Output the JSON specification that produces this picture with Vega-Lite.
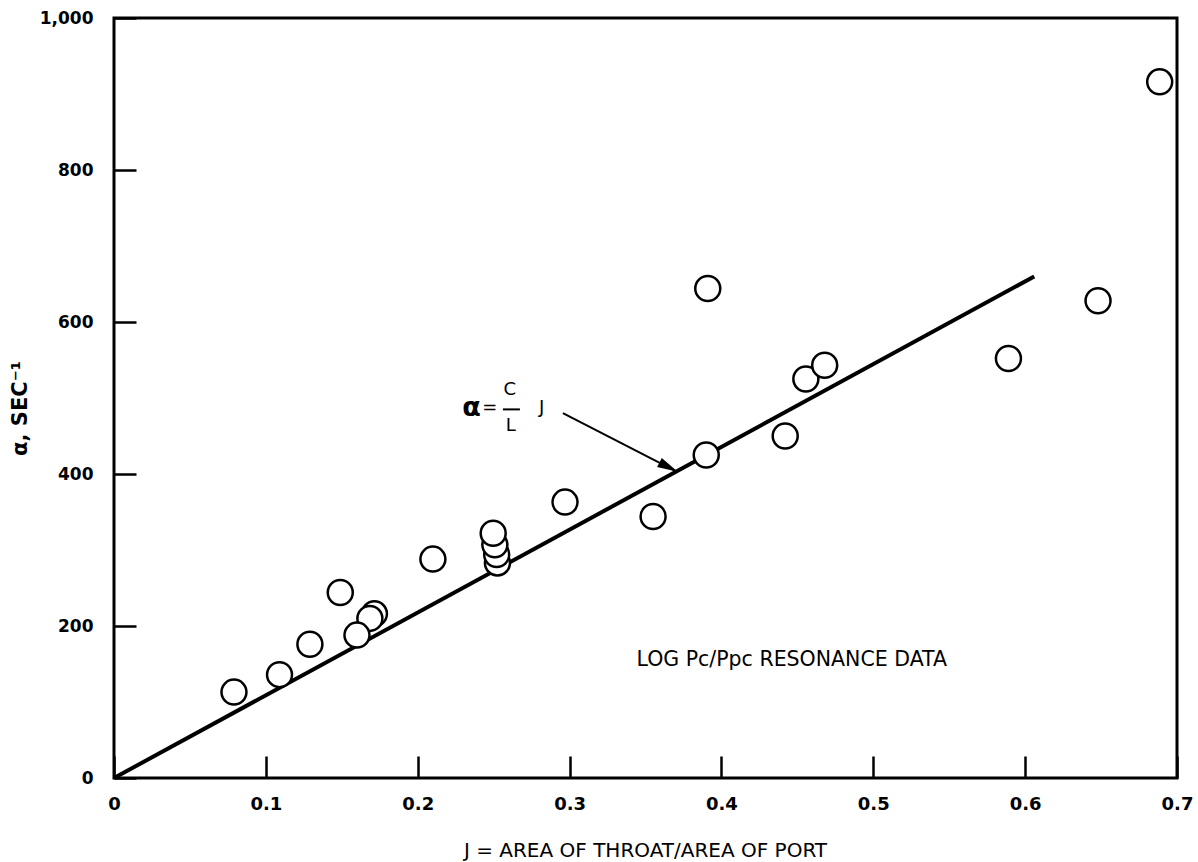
{
  "$schema": "https://vega.github.io/schema/vega-lite/v6.json",
  "width": 1063,
  "height": 760,
  "autosize": {"type": "none"},
  "padding": {"left": 114, "top": 18, "right": 21, "bottom": 84},
  "background": "white",
  "config": {
    "view": {"stroke": "black", "strokeWidth": 3},
    "axis": {
      "grid": false,
      "domain": false,
      "labelFlush": false,
      "labelFont": "DejaVu Sans",
      "labelFontWeight": "bold",
      "labelFontSize": 18,
      "labelColor": "black",
      "tickColor": "black",
      "tickWidth": 2.5,
      "titleFont": "DejaVu Sans",
      "titleColor": "black"
    }
  },
  "datasets": {
    "obs": [
      {"J": 0.079, "alpha": 113},
      {"J": 0.109, "alpha": 136},
      {"J": 0.129, "alpha": 176},
      {"J": 0.149, "alpha": 244},
      {"J": 0.1715, "alpha": 216},
      {"J": 0.1685, "alpha": 210},
      {"J": 0.160, "alpha": 188},
      {"J": 0.210, "alpha": 288},
      {"J": 0.2525, "alpha": 283},
      {"J": 0.252, "alpha": 294},
      {"J": 0.2508, "alpha": 307},
      {"J": 0.2497, "alpha": 322},
      {"J": 0.297, "alpha": 363},
      {"J": 0.355, "alpha": 344},
      {"J": 0.390, "alpha": 425},
      {"J": 0.391, "alpha": 644},
      {"J": 0.442, "alpha": 450},
      {"J": 0.4556, "alpha": 525},
      {"J": 0.468, "alpha": 543},
      {"J": 0.589, "alpha": 552},
      {"J": 0.648, "alpha": 628},
      {"J": 0.6886, "alpha": 916}
    ],
    "fit": [
      {"J": 0, "alpha": 0},
      {"J": 0.606, "alpha": 660}
    ],
    "arrow": [
      {"J": 0.2956, "alpha": 480, "J2": 0.3706, "alpha2": 403}
    ],
    "arrowhead": [
      {"J": 0.3652, "alpha": 409}
    ],
    "bar": [
      {"J": 0.2561, "J2": 0.2673, "alpha": 485}
    ],
    "alphatext": [
      {"J": 0.2355, "alpha": 487, "label": "α"}
    ],
    "eqtext": [
      {"J": 0.2475, "alpha": 487, "label": "="},
      {"J": 0.2607, "alpha": 510, "label": "C"},
      {"J": 0.2613, "alpha": 463, "label": "L"},
      {"J": 0.2816, "alpha": 487, "label": "J"}
    ],
    "note": [
      {"J": 0.4463, "alpha": 155, "label": "LOG Pc/Ppc RESONANCE DATA"}
    ]
  },
  "encoding": {
    "x": {
      "field": "J",
      "type": "quantitative",
      "scale": {"domain": [0, 0.7], "nice": false, "zero": false},
      "axis": {
        "values": [0, 0.1, 0.2, 0.3, 0.4, 0.5, 0.6, 0.7],
        "format": "~g",
        "tickSize": -22,
        "labelPadding": 39,
        "title": "J = AREA OF THROAT/AREA OF PORT",
        "titleFontSize": 20,
        "titleFontWeight": "normal",
        "titleX": 531,
        "titleY": 72,
        "titleAlign": "center",
        "titleBaseline": "middle"
      }
    },
    "y": {
      "field": "alpha",
      "type": "quantitative",
      "scale": {"domain": [0, 1000], "nice": false, "zero": false},
      "axis": {
        "values": [0, 200, 400, 600, 800, 1000],
        "format": ",.0f",
        "tickSize": -22,
        "labelPadding": 43,
        "labelFontSize": 17,
        "title": "α, SEC⁻¹",
        "titleFontSize": 21,
        "titleFontWeight": "bold",
        "titleAngle": -90,
        "titleX": -94,
        "titleY": 390,
        "titleAlign": "center",
        "titleBaseline": "middle"
      }
    }
  },
  "layer": [
    {
      "data": {"name": "fit"},
      "mark": {"type": "line", "color": "black", "strokeWidth": 4}
    },
    {
      "data": {"name": "arrow"},
      "mark": {"type": "rule", "color": "black", "strokeWidth": 2},
      "encoding": {
        "x2": {"field": "J2"},
        "y2": {"field": "alpha2"}
      }
    },
    {
      "data": {"name": "arrowhead"},
      "mark": {"type": "point", "shape": "M -1 -0.5 L 1 0 L -1 0.5 Z", "filled": true, "color": "black", "opacity": 1, "size": 420, "angle": 27}
    },
    {
      "data": {"name": "bar"},
      "mark": {"type": "rule", "color": "black", "strokeWidth": 2},
      "encoding": {
        "x2": {"field": "J2"}
      }
    },
    {
      "data": {"name": "alphatext"},
      "mark": {"type": "text", "font": "DejaVu Sans", "fontWeight": "bold", "fontSize": 27, "color": "black", "align": "center", "baseline": "middle"},
      "encoding": {"text": {"field": "label"}}
    },
    {
      "data": {"name": "eqtext"},
      "mark": {"type": "text", "font": "DejaVu Sans", "fontSize": 18, "color": "black", "align": "center", "baseline": "middle"},
      "encoding": {"text": {"field": "label"}}
    },
    {
      "data": {"name": "note"},
      "mark": {"type": "text", "font": "DejaVu Sans", "fontSize": 20.5, "color": "black", "align": "center", "baseline": "middle"},
      "encoding": {"text": {"field": "label"}}
    },
    {
      "data": {"name": "obs"},
      "mark": {"type": "point", "shape": "circle", "filled": true, "fill": "white", "stroke": "black", "strokeWidth": 2.5, "size": 625, "opacity": 1, "fillOpacity": 1, "strokeOpacity": 1}
    }
  ]
}
